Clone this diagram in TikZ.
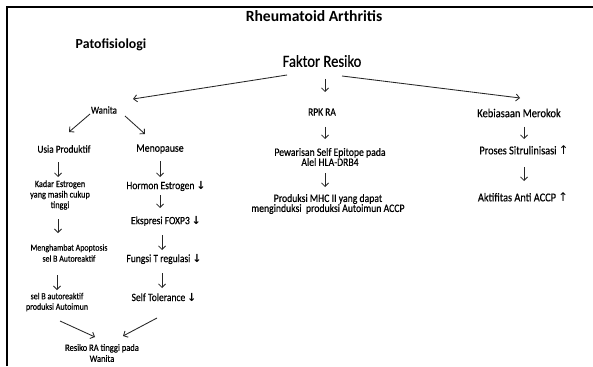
\documentclass[tikz,border=0pt]{standalone}
\usepackage{fontspec}
\setmainfont{Carlito}
\newfontfamily\cond{Carlito}[FakeStretch=0.86, FakeBold=0.4]
\newfontfamily\arrfont{DejaVu Sans}
\usetikzlibrary{arrows.meta}
\newcommand{\darr}{\,{\arrfont\bfseries ↓}}
\newcommand{\uarr}{\,{\arrfont ↑}}
\tikzset{
  lbl/.style={inner sep=0pt, align=center, text=black},
  fs/.style 2 args={font=\cond\fontsize{#1}{#2}\selectfont},
  conn/.style={draw=black!85, line width=0.85pt, -{Straight Barb[length=3.5pt,width=7pt]}},
  frame/.style={draw=black, line width=2pt}
}
\begin{document}
\begin{tikzpicture}[x=1pt,y=-1pt]
\useasboundingbox (0,0) rectangle (593,366);
\fill[white] (0,0) rectangle (593,366);
\draw[frame] (7,366) -- (7,7) -- (593,7);

\node[lbl, font=\bfseries\fontsize{15.6}{17}\selectfont] (title) at (314,16) {Rheumatoid Arthritis};
\node[lbl, font=\bfseries\fontsize{13.8}{15}\selectfont] (patof) at (111,45) {Patofisiologi};
\node[lbl, fs={17}{18}] (faktor) at (322,61) {Faktor Resiko};

\node[lbl, fs={10.4}{11}] (wanita) at (104,110) {Wanita};
\node[lbl, fs={11}{12}] (rpk) at (322,112) {RPK RA};
\node[lbl, fs={12.2}{13}] (keb) at (519,113) {Kebiasaan Merokok};

\node[lbl, fs={10.8}{12}] (usia) at (64,149) {Usia Produktif};
\node[lbl, fs={11.4}{12}] (meno) at (160,149) {Menopause};
\node[lbl, fs={9.6}{10.5}] (kadar) at (60,195) {Kadar Estrogen\\yang masih cukup\\tinggi};
\node[lbl, fs={11.1}{12}] (hormon) at (166,186) {Hormon Estrogen\darr};
\node[lbl, fs={11.1}{12}] (eksp) at (166,221) {Ekspresi FOXP3\darr};
\node[lbl, fs={9.2}{11}] (meng) at (69,253) {Menghambat Apoptosis\\sel B Autoreaktif};
\node[lbl, fs={11.1}{12}] (fungsi) at (164,259) {Fungsi T regulasi\darr};
\node[lbl, fs={9.3}{10.5}] (selb) at (57,302) {sel B autoreaktif\\produksi Autoimun};
\node[lbl, fs={11.1}{12}] (self) at (164,297) {Self Tolerance\darr};
\node[lbl, fs={9.9}{11}] (resiko) at (102,353) {Resiko RA tinggi pada\\Wanita};

\node[lbl, fs={11.3}{10}] (pew) at (330,157) {Pewarisan Self Epitope pada\\Alel HLA-DRB4};
\node[lbl, fs={11.3}{10}] (prod) at (328,204) {Produksi MHC II yang dapat\\menginduksi\ \ produksi Autoimun ACCP};

\node[lbl, fs={12}{13}] (proses) at (524,150) {Proses Sitrulinisasi\uarr};
\node[lbl, fs={12}{13}] (akt) at (523,197) {Aktifitas Anti ACCP\uarr};

% diagonal connectors
\draw[conn] ([shift={(-35,14)}]faktor.center) -- ([shift={(29,-11)}]wanita.center);
\draw[conn] ([shift={(20,15)}]faktor.center) -- ([shift={(1,-15)}]keb.center);
\draw[conn] ([shift={(-14,4)}]wanita.center) -- ([shift={(5,-17)}]usia.center);
\draw[conn] ([shift={(21,6)}]wanita.center) -- ([shift={(-15,-15)}]meno.center);
\draw[conn] ([shift={(3,19)}]selb.center) -- ([shift={(-7,-16)}]resiko.center);
\draw[conn] ([shift={(-7,21)}]self.center) -- ([shift={(21,-17)}]resiko.center);

% vertical connectors
\draw[conn] ([shift={(3,18)}]faktor.center) -- ([shift={(3,-20)}]rpk.center);
\draw[conn] ([shift={(3,15)}]rpk.center) -- ([shift={(-5,-18)}]pew.center);
\draw[conn] ([shift={(-5,16)}]pew.center) -- ([shift={(-3,-17)}]prod.center);
\draw[conn] ([shift={(5,14)}]keb.center) -- ([shift={(0,-11)}]proses.center);
\draw[conn] ([shift={(0,17)}]proses.center) -- ([shift={(1,-16)}]akt.center);
\draw[conn] ([shift={(-6,13)}]usia.center) -- ([shift={(-2,-18)}]kadar.center);
\draw[conn] ([shift={(-2,24)}]kadar.center) -- ([shift={(-11,-20)}]meng.center);
\draw[conn] ([shift={(-12,22)}]meng.center) -- ([shift={(0,-12)}]selb.center);
\draw[conn] ([shift={(0,12)}]meno.center) -- ([shift={(-6,-9)}]hormon.center);
\draw[conn] ([shift={(-6,9)}]hormon.center) -- ([shift={(-6,-13)}]eksp.center);
\draw[conn] ([shift={(-4,14)}]eksp.center) -- ([shift={(-2,-9)}]fungsi.center);
\draw[conn] ([shift={(-2,14)}]fungsi.center) -- ([shift={(-2,-9)}]self.center);
\end{tikzpicture}
\end{document}
